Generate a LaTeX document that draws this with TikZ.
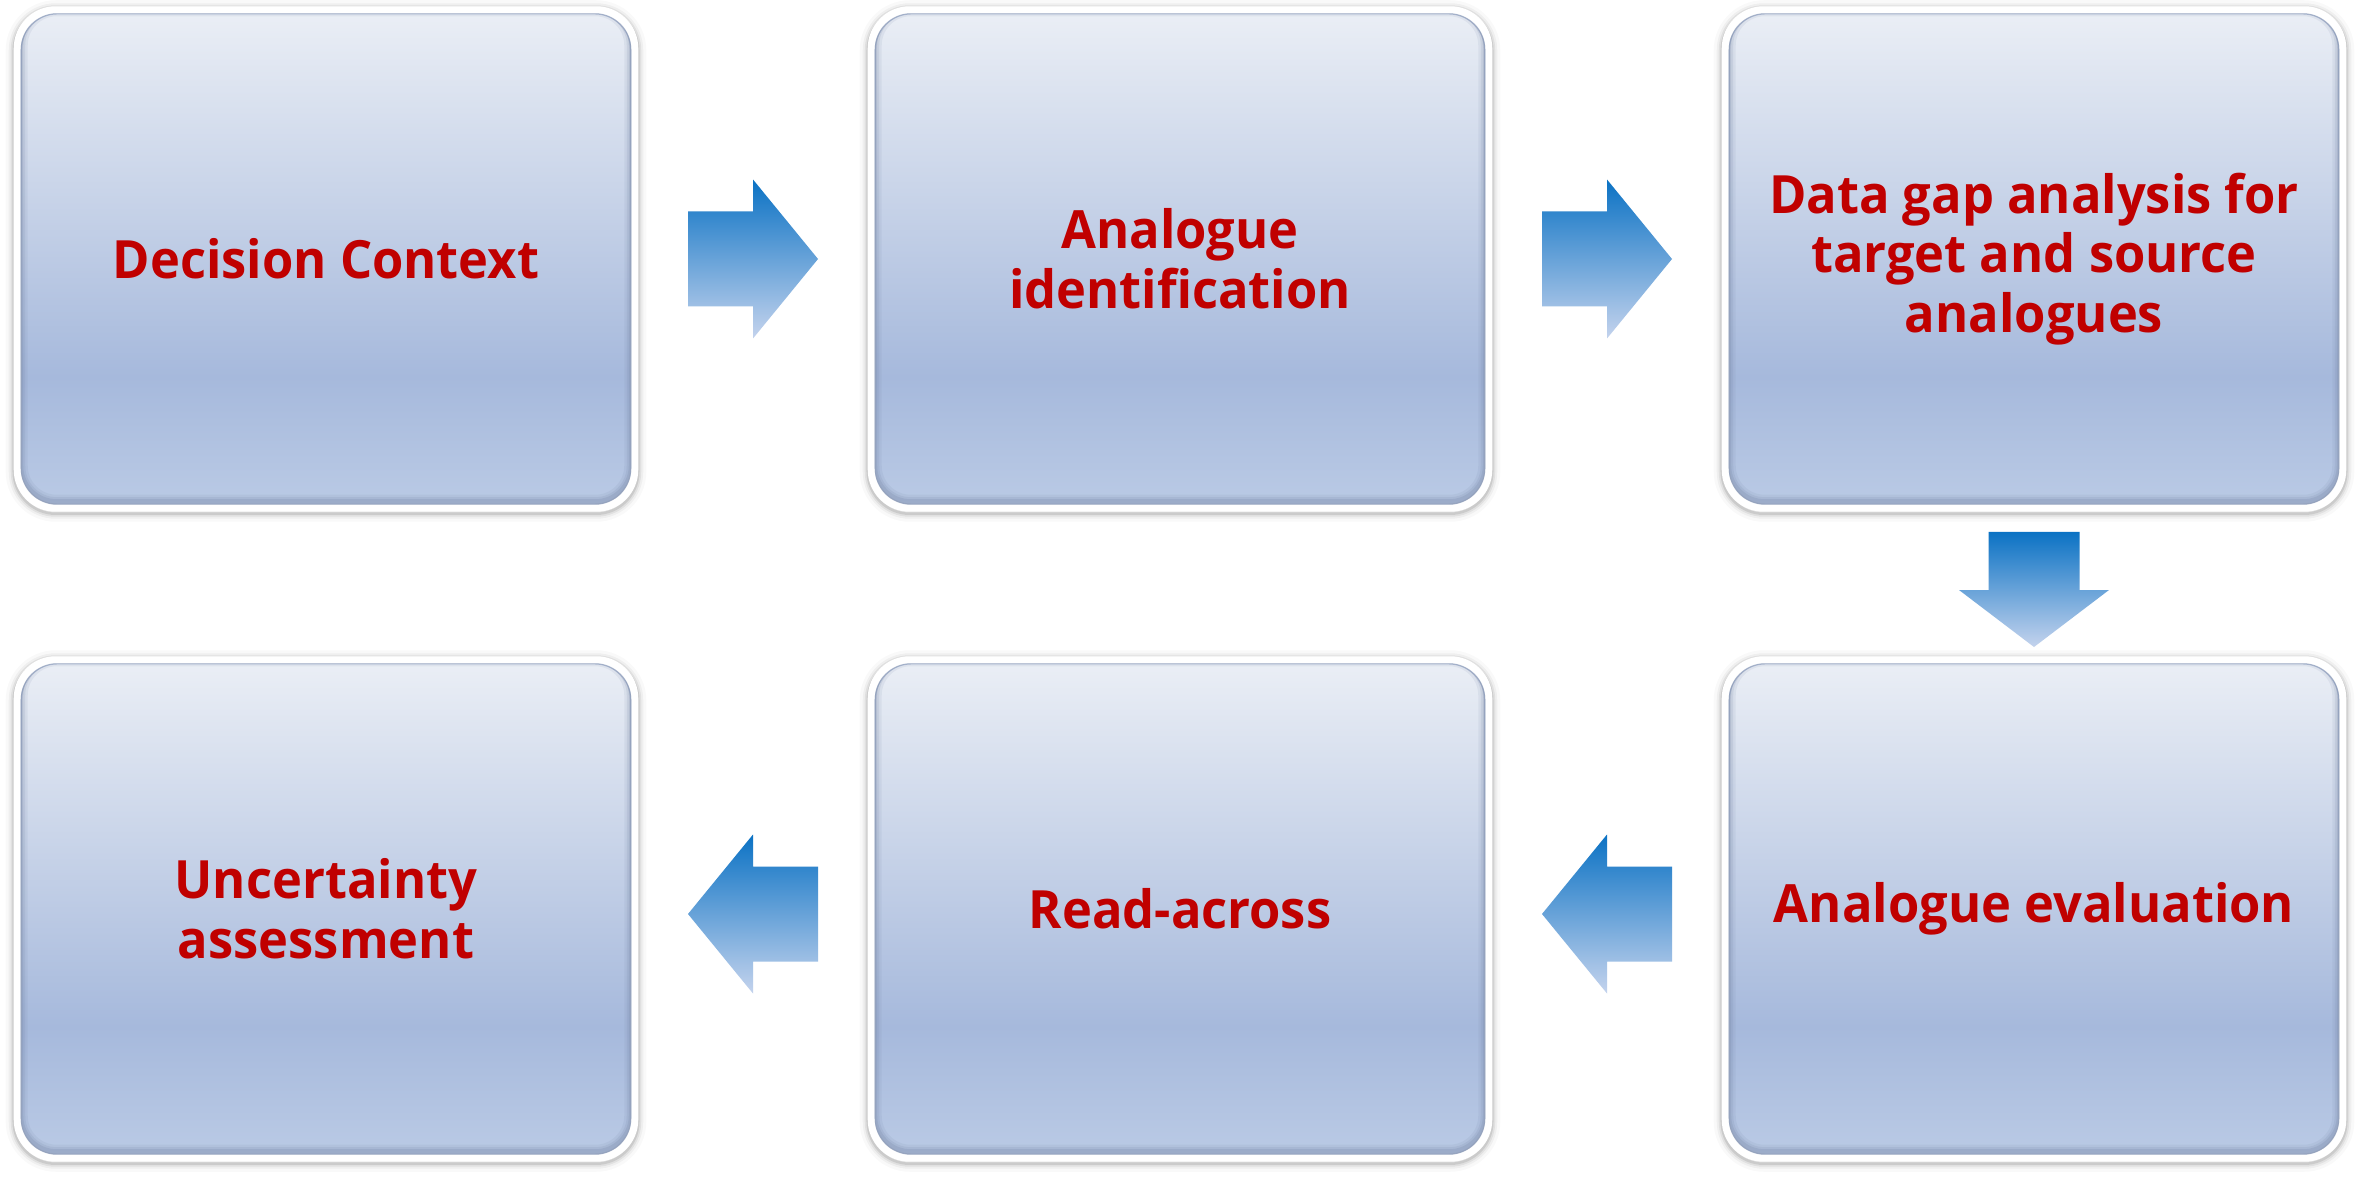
\documentclass[tikz,border=0pt]{standalone}
\usepackage{fontspec}
\setmainfont{Open Sans}[FakeStretch=0.96]
\usetikzlibrary{calc,backgrounds}
\definecolor{textred}{HTML}{C00000}
\definecolor{btop}{HTML}{EAEEF5}
\definecolor{bmid}{HTML}{A6B9DC}
\definecolor{bbot}{HTML}{BACAE5}
\definecolor{atop}{HTML}{0B72C4}
\definecolor{abot}{HTML}{C4D3ED}
\definecolor{inedge}{HTML}{AEBBD3}
\definecolor{darkedge}{HTML}{6F7F9F}
\pgfdeclareverticalshading{boxshade}{100bp}{color(0bp)=(bbot);color(25bp)=(bbot);color(38bp)=(bmid);color(75bp)=(btop);color(100bp)=(btop)}
\pgfdeclareverticalshading{arrowshade}{100bp}{color(0bp)=(abot);color(25bp)=(abot);color(75bp)=(atop);color(100bp)=(atop)}
\tikzset{
  stepbox/.style={rounded corners=0.36cm, minimum width=6.09cm, minimum height=4.9cm,
    shading=boxshade, draw=inedge, line width=0.12mm, text=textred, align=center,
    font=\fontsize{15pt}{17pt}\selectfont\bfseries, inner sep=0pt},
  blockarrow/.style={shading=arrowshade, draw=none}
}
\newcommand\frameit[1]{%
  \begin{pgfonlayer}{background}
  \foreach \w/\o in {1.6mm/0.025,1.0mm/0.04,0.6mm/0.06,0.25mm/0.09}
    \draw[line width=\w, draw=black, opacity=\o, rounded corners=0.42cm]
      ([shift={(-7,-5)}]#1.north west) rectangle ([shift={(7,9)}]#1.south east);
  \fill[white, rounded corners=0.42cm]
      ([shift={(-7,-7)}]#1.north west) rectangle ([shift={(7,7)}]#1.south east);
  \end{pgfonlayer}
  \begin{scope}
  \clip[rounded corners=0.36cm] (#1.north west) rectangle (#1.south east);
  \foreach \w/\o in {1.4mm/0.10,0.9mm/0.14,0.5mm/0.2}
    \draw[line width=\w, draw=darkedge, opacity=\o, rounded corners=0.36cm]
      ([shift={(0,-4)}]#1.north west) rectangle ([shift={(0,-3)}]#1.south east);
  \end{scope}}
\begin{document}
\begin{tikzpicture}[x=0.01cm,y=-0.01cm]
\begin{pgfonlayer}{background}
\fill[white] (0,0) rectangle (2359,1179);
\end{pgfonlayer}
\useasboundingbox (0,0) rectangle (2359,1179);
% boxes
\node[stepbox] (b1) at (326,259) {Decision Context};
\node[stepbox] (b2) at (1180,259) {Analogue\\identification};
\node[stepbox] (b3) at (2034,259) {Data gap analysis for\\target and source\\analogues};
\node[stepbox] (b4) at (2034,909) {Analogue evaluation};
\node[stepbox] (b5) at (1180,909) {Read-across};
\node[stepbox] (b6) at (326,909) {Uncertainty\\assessment};
\frameit{b1}\frameit{b2}\frameit{b3}\frameit{b4}\frameit{b5}\frameit{b6}
% arrow anchors
\coordinate (a1) at ($(b1.east)!0.5!(b2.west)$);
\coordinate (a2) at ($(b2.east)!0.5!(b3.west)$);
\coordinate (a3) at (2034,590);
\coordinate (a4) at ($(b5.east)!0.5!(b4.west)+(0,5)$);
\coordinate (a5) at ($(b6.east)!0.5!(b5.west)+(0,5)$);
% right arrows
\foreach \c in {a1,a2}
  \path[blockarrow, shift={(\c)}] (-65,-47.5) -- (0,-47.5) -- (0,-79.5) -- (65,0)
     -- (0,79.5) -- (0,47.5) -- (-65,47.5) -- cycle;
% left arrows
\foreach \c in {a4,a5}
  \path[blockarrow, shift={(\c)}] (65,-47.5) -- (0,-47.5) -- (0,-79.5) -- (-65,0)
     -- (0,79.5) -- (0,47.5) -- (65,47.5) -- cycle;
% down arrow
\path[blockarrow, shift={(a3)}] (-45.5,-58) -- (45.5,-58) -- (45.5,0) -- (75,0)
   -- (0,57) -- (-75,0) -- (-45.5,0) -- cycle;
\end{tikzpicture}
\end{document}
